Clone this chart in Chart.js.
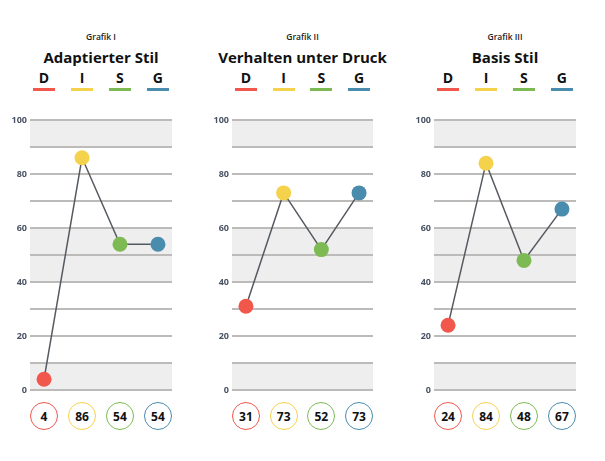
<!DOCTYPE html>
<html>
<head>
<meta charset="utf-8">
<script src="https://cdn.jsdelivr.net/npm/chart.js@4"></script>
<style>
  html, body { margin: 0; padding: 0; background: #fff; }
  body { width: 605px; height: 461px; position: relative; overflow: hidden; font-family: "Open Sans", sans-serif; }
  .wrap { position: absolute; top: 110px; height: 290px; }
  .t { position: absolute; white-space: nowrap; transform: translateX(-50%); color: #111; text-align: center; }
  .sub { font-size: 8.5px; font-weight: 600; top: 31px; color: #222; }
  .title { font-size: 15px; font-weight: 700; top: 47px; }
  .letter { font-size: 14px; font-weight: 700; top: 68px; }
  .bar { position: absolute; width: 22px; height: 3px; top: 88px; transform: translateX(-50%); }
  .circ { position: absolute; width: 26px; height: 26px; border-radius: 50%; border: 1.8px solid; top: 402px;
          transform: translateX(-50%); display: flex; align-items: center; justify-content: center;
          font-size: 12px; font-weight: 700; color: #111; background: #fff; }
</style>
</head>
<body>
<script>
// ---- data ----
const categories = ["D", "I", "S", "G"];
const chartSubtitles = ["Grafik I", "Grafik II", "Grafik III"];
const chartTitles = ["Adaptierter Stil", "Verhalten unter Druck", "Basis Stil"];
const valuesAdaptiert = [4, 86, 54, 54];
const valuesDruck = [31, 73, 52, 73];
const valuesBasis = [24, 84, 48, 67];
const yTickLabels = [0, 20, 40, 60, 80, 100];
const categoryColors = ["#f2574c", "#f4d24c", "#7dba53", "#4a8cad"];

const allValues = [valuesAdaptiert, valuesDruck, valuesBasis];
const canvasLefts = [0, 202, 404];
const canvasWidths = [172, 171, 172];

const bandPlugin = {
  id: 'bands',
  beforeDraw(chart) {
    const { ctx, chartArea, scales } = chart;
    const y = scales.y;
    ctx.save();
    ctx.fillStyle = '#efeeee';
    [[90, 100], [40, 60], [0, 10]].forEach(([a, b]) => {
      const top = y.getPixelForValue(b), bot = y.getPixelForValue(a);
      ctx.fillRect(chartArea.left, top, chartArea.right - chartArea.left, bot - top);
    });
    ctx.restore();
  }
};

allValues.forEach((vals, idx) => {
  const wrap = document.createElement('div');
  wrap.className = 'wrap';
  wrap.style.left = canvasLefts[idx] + 'px';
  wrap.style.width = canvasWidths[idx] + 'px';
  document.body.appendChild(wrap);
  const cv = document.createElement('canvas');
  cv.width = canvasWidths[idx];
  cv.height = 290;
  cv.style.width = canvasWidths[idx] + 'px';
  cv.style.height = '290px';
  wrap.appendChild(cv);

  const chart = new Chart(cv, {
    type: 'line',
    data: {
      datasets: [{
        data: vals.map((v, i) => ({ x: i, y: v })),
        borderColor: '#555a60',
        borderWidth: 1.5,
        pointBackgroundColor: categoryColors,
        pointBorderColor: categoryColors,
        pointRadius: 7.5,
        pointBorderWidth: 0,
        tension: 0,
        clip: false
      }]
    },
    options: {
      responsive: false,
      maintainAspectRatio: false,
      animation: false,
      events: [],
      layout: { autoPadding: false, padding: { top: 10, bottom: 10, left: 0, right: 0 } },
      plugins: { legend: { display: false }, tooltip: { enabled: false } },
      scales: {
        x: { type: 'linear', min: -0.37, max: 3.37, display: false },
        y: {
          min: 0, max: 100,
          afterFit(s) { s.width = 30; },
          border: { display: false },
          grid: { color: '#bdbaba', lineWidth: 2, drawTicks: false },
          ticks: {
            stepSize: 10,
            padding: 3,
            color: '#4a5363',
            font: { family: 'Open Sans', size: 9, weight: 'bold' },
            callback: v => yTickLabels.includes(v) ? String(v) : ''
          }
        }
      }
    },
    plugins: [bandPlugin]
  });

  const ca = chart.chartArea;
  const off = canvasLefts[idx];
  const center = off + (ca.left + ca.right) / 2;

  const sub = document.createElement('div');
  sub.className = 't sub'; sub.style.left = center + 'px'; sub.textContent = chartSubtitles[idx];
  document.body.appendChild(sub);
  const ti = document.createElement('div');
  ti.className = 't title'; ti.style.left = center + 'px'; ti.textContent = chartTitles[idx];
  document.body.appendChild(ti);

  categories.forEach((c, i) => {
    const px = off + chart.scales.x.getPixelForValue(i);
    const l = document.createElement('div');
    l.className = 't letter'; l.style.left = px + 'px'; l.textContent = c;
    document.body.appendChild(l);
    const b = document.createElement('div');
    b.className = 'bar'; b.style.left = px + 'px'; b.style.background = categoryColors[i];
    document.body.appendChild(b);
    const ci = document.createElement('div');
    ci.className = 'circ'; ci.style.left = px + 'px'; ci.style.borderColor = categoryColors[i];
    ci.textContent = String(vals[i]);
    document.body.appendChild(ci);
  });
});
</script>
</body>
</html>
